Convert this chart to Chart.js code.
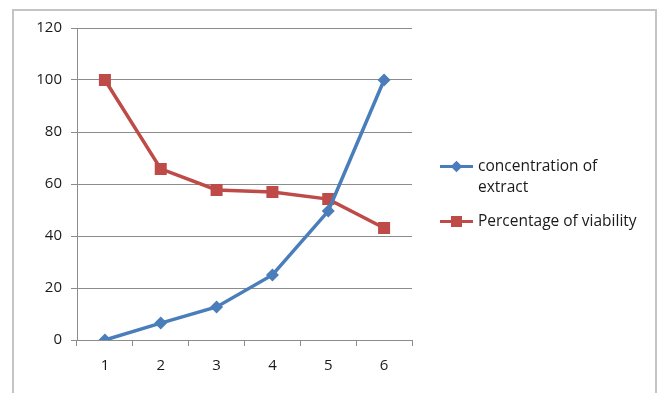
<!DOCTYPE html>
<html lang="en">
<head>
    <meta charset="UTF-8">
    <title>Concentration vs viability</title>
    <script src="https://cdn.jsdelivr.net/npm/chart.js"></script>
    <style>
        body {
            margin: 0;
            background-color: #ffffff;
            font-family: "Open Sans", Arial, sans-serif;
        }
        #wrap {
            position: relative;
            width: 667px;
            height: 393px;
            overflow: hidden;
        }
        #frame {
            position: absolute;
            left: 12px;
            top: 9px;
            width: 641px;
            height: 400px;
            border: 2px solid #c4c4c4;
        }
        canvas {
            position: absolute;
            left: 0;
            top: 0;
        }
        #legend {
            position: absolute;
            left: 440px;
            top: 155px;
            font-size: 15.5px;
            color: #1a1a1a;
        }
        .item {
            display: flex;
            align-items: flex-start;
            margin-bottom: 13px;
        }
        .key {
            position: relative;
            width: 33px;
            height: 21px;
            margin-right: 5px;
            flex: none;
        }
        .key .ln {
            position: absolute;
            left: 0;
            top: 10px;
            width: 33px;
            height: 3px;
        }
        .key .mk {
            position: absolute;
            left: 11px;
            top: 6px;
            width: 11px;
            height: 11px;
        }
        .label { line-height: 21px; }
    </style>
</head>
<body>
    <div id="wrap">
        <div id="frame"></div>
        <canvas id="chart" width="667" height="393"></canvas>
        <div id="legend"></div>
    </div>

    <script>
        const categories = ['1', '2', '3', '4', '5', '6'];
        const concentration = [0, 6.5, 12.7, 25, 49.6, 100];
        const viability = [100, 65.8, 57.7, 56.9, 54.2, 43.1];
        const seriesNames = [['concentration of', 'extract'], ['Percentage of viability']];

        const blue = '#4a7ebb';
        const red = '#be4b48';
        const gridColor = '#8c8c8c';

        const ctx = document.getElementById('chart').getContext('2d');
        const chart = new Chart(ctx, {
            type: 'line',
            data: {
                labels: categories,
                datasets: [
                    {
                        label: seriesNames[0].join(' '),
                        data: concentration,
                        borderColor: blue,
                        backgroundColor: blue,
                        borderWidth: 3.5,
                        pointStyle: 'rectRot',
                        pointRadius: 6.5,
                        pointBorderWidth: 0,
                        tension: 0,
                    },
                    {
                        label: seriesNames[1].join(' '),
                        data: viability,
                        borderColor: red,
                        backgroundColor: red,
                        borderWidth: 3.5,
                        pointStyle: 'rect',
                        pointRadius: 8.5,
                        pointBorderWidth: 0,
                        tension: 0,
                    },
                ],
            },
            options: {
                responsive: false,
                animation: false,
                layout: { padding: { left: 0, top: 28, right: 255, bottom: 0 } },
                plugins: {
                    legend: { display: false },
                    tooltip: { enabled: false },
                },
                scales: {
                    x: {
                        offset: true,
                        afterFit: function(scale) { scale.height = 53; },
                        grid: {
                            offset: true,
                            drawOnChartArea: false,
                            tickLength: 6,
                            color: gridColor,
                        },
                        border: { color: gridColor, width: 1 },
                        ticks: {
                            color: '#1a1a1a',
                            padding: 11,
                            font: { family: 'Open Sans', size: 15 },
                        },
                    },
                    y: {
                        min: 0,
                        max: 120,
                        afterFit: function(scale) { scale.width = 77; },
                        grid: {
                            color: gridColor,
                            tickLength: 6,
                        },
                        border: { color: gridColor, width: 1 },
                        ticks: {
                            stepSize: 20,
                            color: '#1a1a1a',
                            padding: 9,
                            font: { family: 'Open Sans', size: 15 },
                        },
                    },
                },
            },
        });

        // html legend so the first label can wrap like the original
        const legend = document.getElementById('legend');
        chart.data.datasets.forEach((ds, i) => {
            const item = document.createElement('div');
            item.className = 'item';
            const key = document.createElement('div');
            key.className = 'key';
            const ln = document.createElement('div');
            ln.className = 'ln';
            ln.style.background = ds.borderColor;
            const mk = document.createElement('div');
            mk.className = 'mk';
            mk.style.background = ds.backgroundColor;
            if (ds.pointStyle === 'rectRot') {
                mk.style.transform = 'rotate(45deg) scale(0.75)';
            }
            key.appendChild(ln);
            key.appendChild(mk);
            const label = document.createElement('div');
            label.className = 'label';
            label.innerHTML = seriesNames[i].join('<br>');
            item.appendChild(key);
            item.appendChild(label);
            legend.appendChild(item);
        });
    </script>
</body>
</html>
